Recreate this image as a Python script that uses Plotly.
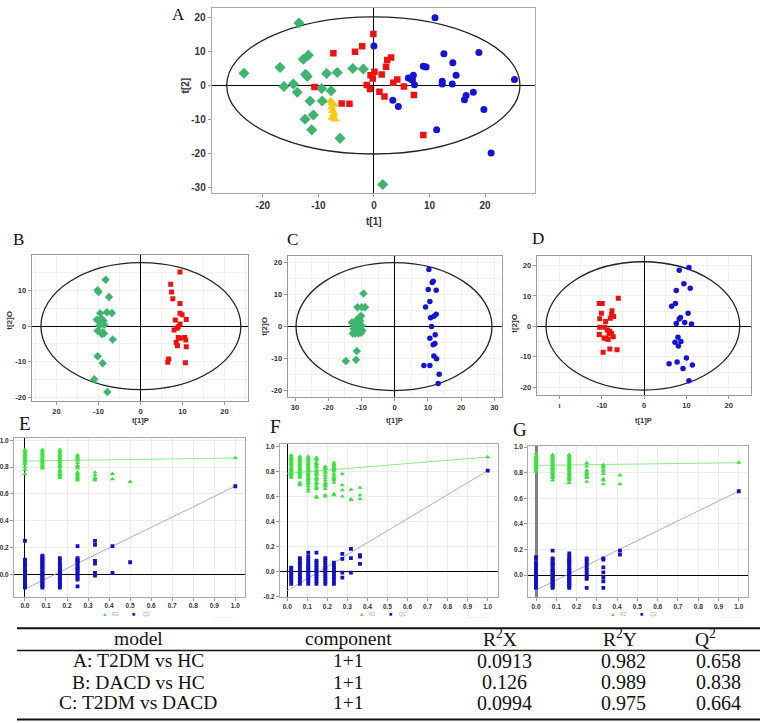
import plotly.graph_objects as go

W, H = 771, 723

# ---------------- DATA ----------------
# Panel A (PCA scores, t[1] vs t[2])
A_GREEN_X = [-13.5, -23.4, -16.9, -16.2, -14.5, -13.8, -12.7, -11.8, -12.3, -12.0, -11.5, -12.4, -10.9, -11.2, -9.4, -9.3, -8.5, -7.7, -6.6, -6.1, -3.8, -1.9, 1.6]
A_GREEN_Y = [18.4, 3.6, 5.3, -0.3, 0.4, -2.0, 7.7, 8.9, 3.3, 2.6, -4.6, -10.0, -8.7, -13.1, -0.9, -4.6, 3.5, -1.6, 3.8, -15.6, 5.0, 4.8, -29.2]
A_RED_X = [-0.1, -2.1, -3.4, -7.3, -10.7, -5.8, -4.4, -1.3, -0.7, -0.6, 0.1, -0.2, 1.4, 1.0, 1.9, 2.2, 2.4, 3.1, 3.5, 4.2, 5.4, 7.2, 7.0, 8.9]
A_RED_Y = [15.1, 11.5, 9.9, 9.5, -0.5, -5.3, -5.4, 0.1, -1.1, 3.0, 4.0, 2.0, 3.2, -1.9, -3.3, 5.5, 7.5, 8.2, 0.8, 1.7, -0.3, -2.8, 1.7, -14.6]
A_BLUE_X = [0.0, 11.0, 12.6, 14.2, 14.8, 18.9, 25.3, 8.9, 9.4, 6.2, 7.1, 7.3, 6.8, 3.4, 4.4, 12.3, 12.3, 14.1, 16.6, 16.3, 17.9, 19.8, 11.3, 21.1]
A_BLUE_Y = [11.6, 19.9, 9.3, 6.7, 3.0, 9.7, 1.7, 5.6, 5.4, 2.2, 3.0, 0.2, 1.7, -4.4, -6.2, 1.2, 0.4, 0.4, -3.0, -4.2, -2.0, -7.1, -13.1, -19.9]
A_YELLOW_X = [-7.8, -7.5, -7.2, -7.6, -7.4, -7.2, -7.5, -7.0]
A_YELLOW_Y = [-4.6, -5.2, -5.6, -6.5, -7.5, -8.5, -9.5, -10.0]

# Panel B (OPLS-DA, DACD vs HC)
B_GREEN_X = [-8.3, -10.2, -10.0, -7.5, -9.6, -8.0, -6.8, -10.4, -9.8, -9.2, -8.8, -9.8, -8.6, -10.2, -9.0, -8.7, -9.2, -6.6, -10.2, -9.0, -11.0, -7.9]
B_GREEN_Y = [13.1, 10.1, 9.6, 8.2, 3.6, 3.9, 3.7, 1.8, 1.5, 2.0, 1.5, 0.1, 0.4, -1.3, -1.7, -2.1, -2.2, -3.8, -8.5, -10.5, -15.0, -18.6]
B_RED_X = [9.4, 7.2, 7.4, 7.7, 9.4, 9.4, 9.9, 8.3, 10.9, 9.4, 9.0, 8.7, 8.0, 9.0, 9.4, 10.5, 10.8, 8.5, 8.8, 10.9, 6.7, 6.5, 10.7]
B_RED_Y = [15.3, 11.8, 9.6, 7.7, 6.4, 3.6, 3.2, 1.7, 1.9, 0.6, -0.2, -0.6, -1.1, -3.2, -3.4, -3.2, -3.9, -4.6, -5.5, -5.8, -9.3, -10.2, -10.3]

# Panel C (OPLS-DA, T2DM vs DACD)
C_GREEN_X = [-9.4, -11.2, -9.9, -8.9, -10.1, -10.7, -11.4, -11.9, -12.9, -10.4, -12.2, -10.9, -9.9, -12.4, -11.4, -10.7, -9.7, -12.6, -11.9, -10.9, -10.1, -11.4, -11.6, -14.7]
C_GREEN_Y = [10.4, 6.1, 6.1, 6.1, 3.4, 2.9, 2.2, 1.3, 1.3, 1.9, 0.3, 0.0, 0.3, -0.7, -1.0, -1.4, -1.2, -2.1, -2.1, -2.1, -1.9, -7.6, -10.3, -10.7]
C_BLUE_X = [10.3, 11.6, 11.3, 10.1, 12.5, 10.6, 9.3, 12.5, 11.8, 10.8, 11.1, 10.6, 12.2, 12.1, 11.6, 11.8, 12.6, 8.8, 10.6, 13.4, 13.1]
C_BLUE_Y = [17.9, 14.2, 13.8, 11.6, 11.4, 7.9, 6.2, 3.9, 3.3, 2.8, 0.1, -3.6, -2.5, -5.2, -5.6, -9.1, -10.0, -12.1, -12.1, -14.8, -17.7]

# Panel D (OPLS-DA, T2DM vs HC)
D_RED_X = [-6.1, -10.6, -9.9, -10.1, -7.6, -7.7, -8.0, -7.2, -10.5, -9.1, -10.5, -9.3, -8.7, -8.1, -8.3, -10.6, -7.7, -7.3, -9.1, -8.5, -9.5, -8.1, -6.4, -9.7]
D_RED_Y = [9.2, 7.5, 7.5, 4.3, 5.1, 3.8, 2.7, 3.2, 2.5, 1.6, -0.3, -0.3, -1.2, -1.6, -2.5, -2.7, -2.3, -3.4, -3.9, -4.3, -3.8, -7.4, -7.7, -8.5]
D_BLUE_X = [10.6, 8.3, 9.4, 10.9, 7.6, 7.4, 6.5, 10.4, 8.6, 8.3, 9.6, 7.6, 11.2, 8.0, 8.7, 7.3, 8.1, 10.0, 7.8, 5.9, 11.4, 9.2, 10.6]
D_BLUE_Y = [19.3, 18.4, 14.0, 12.5, 11.8, 7.5, 6.6, 4.3, 2.9, 2.4, 1.3, 0.9, 0.8, -3.6, -5.0, -5.2, -6.4, -10.4, -11.7, -12.3, -12.7, -13.8, -17.8]

# Hotelling T2 ellipses: [x_min, x_max, y_min, y_max]
ELLIPSE_A = [-26.5, 26.3, -20.2, 20.2]
ELLIPSE_B = [-23.7, 23.9, -17.9, 17.9]
ELLIPSE_C = [-29.7, 29.3, -19.9, 20.0]
ELLIPSE_D = [-23.2, 22.6, -20.9, 21.2]

# Permutation tests (E, F, G): correlation column positions, R2 and Q2 values per column
E_X = [0.0, 0.083, 0.166, 0.25, 0.333, 0.416, 0.5]
E_R2 = [
    [0.93, 0.92, 0.91, 0.90, 0.89, 0.88, 0.87, 0.86, 0.85, 0.84, 0.83, 0.82, 0.80, 0.78, 0.75],
    [0.93, 0.92, 0.91, 0.90, 0.89, 0.88, 0.87, 0.86, 0.85, 0.84, 0.83, 0.82, 0.81, 0.80, 0.79],
    [0.93, 0.92, 0.91, 0.90, 0.89, 0.88, 0.87, 0.86, 0.85, 0.84, 0.83, 0.82, 0.81, 0.80, 0.78, 0.77, 0.76, 0.75, 0.74, 0.73, 0.72],
    [0.89, 0.88, 0.87, 0.86, 0.85, 0.83, 0.81, 0.80, 0.79, 0.76, 0.75, 0.74, 0.73, 0.72, 0.71, 0.70],
    [0.76, 0.74, 0.72, 0.71, 0.70],
    [0.75, 0.71],
    [0.69],
]
E_Q2 = [
    [0.25, 0.11, 0.10, 0.08, 0.07, 0.05, 0.03, 0.02, 0.01, 0.0, -0.01, -0.02, -0.04, -0.05, -0.06, -0.07, -0.08, -0.09, -0.10],
    [0.14, 0.13, 0.12, 0.11, 0.10, 0.09, 0.08, 0.07, 0.06, 0.05, 0.04, 0.03, 0.02, 0.01, 0.0, -0.01, -0.02, -0.03, -0.04, -0.05, -0.06, -0.07, -0.08, -0.09, -0.10],
    [0.12, 0.10, 0.08, 0.07, 0.06, 0.05, 0.04, 0.03, 0.02, 0.01, 0.0, -0.01, -0.02, -0.03, -0.04, -0.05, -0.06, -0.07, -0.08, -0.09, -0.10],
    [0.21, 0.12, 0.11, 0.10, 0.09, 0.08, 0.06, 0.05, 0.04, 0.03, 0.01, 0.0, -0.01, -0.03, -0.04, -0.09],
    [0.25, 0.22, 0.10, 0.08, 0.01, -0.01],
    [0.21, 0.01],
    [0.09],
]
E_ORIG = [1.0, 0.868, 0.657]        # x, R2, Q2 of the real model
E_INTERCEPTS = [0.845, -0.11]       # R2 and Q2 regression intercepts

F_X = [0.02, 0.063, 0.105, 0.146, 0.19, 0.233, 0.275, 0.318, 0.363]
F_R2 = [
    [0.93, 0.92, 0.91, 0.90, 0.89, 0.88, 0.87, 0.86, 0.85, 0.84, 0.83, 0.82, 0.81, 0.80, 0.79, 0.78, 0.77, 0.76, 0.75],
    [0.92, 0.91, 0.90, 0.89, 0.88, 0.87, 0.86, 0.85, 0.84, 0.83, 0.82, 0.81, 0.80, 0.79, 0.78, 0.77, 0.76, 0.75, 0.71, 0.70, 0.69],
    [0.92, 0.91, 0.90, 0.89, 0.88, 0.87, 0.86, 0.85, 0.84, 0.83, 0.82, 0.81, 0.80, 0.79, 0.78, 0.77, 0.76, 0.75, 0.74, 0.73, 0.72, 0.71, 0.70, 0.68, 0.66, 0.64],
    [0.91, 0.90, 0.89, 0.87, 0.86, 0.85, 0.84, 0.83, 0.81, 0.80, 0.79, 0.78, 0.77, 0.75, 0.74, 0.73, 0.71, 0.70, 0.68, 0.67, 0.66, 0.60, 0.59],
    [0.84, 0.83, 0.82, 0.80, 0.79, 0.77, 0.75, 0.73, 0.71, 0.70, 0.69, 0.68, 0.66, 0.61, 0.60],
    [0.87, 0.86, 0.85, 0.84, 0.83, 0.82, 0.81, 0.80, 0.78, 0.76, 0.75, 0.74, 0.73, 0.71, 0.62, 0.61],
    [0.78, 0.69, 0.65, 0.60],
    [0.655, 0.58, 0.57],
    [0.67, 0.61, 0.58],
]
F_Q2 = [
    [0.03, 0.02, 0.0, -0.02, -0.03, -0.05, -0.06, -0.08, -0.10],
    [0.105, 0.09, 0.07, 0.06, 0.04, 0.02, 0.0, -0.01, -0.03, -0.05, -0.06, -0.08, -0.10],
    [0.15, 0.12, 0.10, 0.08, 0.06, 0.05, 0.03, 0.02, 0.0, -0.02, -0.03, -0.05, -0.06, -0.08, -0.10],
    [0.15, 0.085, 0.07, 0.05, 0.03, 0.01, 0.0, -0.02, -0.04, -0.06, -0.08, -0.10],
    [0.105, 0.09, 0.07, 0.05, 0.03, 0.02, 0.0, -0.02, -0.04, -0.06, -0.08, -0.10],
    [0.07, 0.05, 0.03, 0.02, 0.0, -0.02, -0.04, -0.06, -0.08, -0.10],
    [0.14, 0.10, -0.01, -0.05],
    [0.18, 0.105, -0.01],
    [0.13, 0.117, 0.06],
]
F_ORIG = [1.0, 0.915, 0.806]
F_INTERCEPTS = [0.785, -0.155]

G_X = [0.0, 0.082, 0.164, 0.25, 0.332, 0.414]
G_R2 = [
    [0.95, 0.93, 0.92, 0.91, 0.90, 0.89, 0.88, 0.87, 0.86, 0.85, 0.84, 0.83, 0.82, 0.81],
    [0.94, 0.93, 0.92, 0.91, 0.90, 0.89, 0.88, 0.87, 0.86, 0.85, 0.84, 0.83, 0.82, 0.81, 0.80, 0.79, 0.78, 0.77, 0.76, 0.74],
    [0.94, 0.93, 0.92, 0.91, 0.90, 0.89, 0.88, 0.87, 0.86, 0.85, 0.84, 0.83, 0.82, 0.81, 0.80, 0.79, 0.78, 0.77, 0.76, 0.75, 0.74, 0.72],
    [0.875, 0.85, 0.82, 0.81, 0.80, 0.79, 0.78, 0.77, 0.76, 0.73],
    [0.86, 0.85, 0.84, 0.82, 0.81, 0.79, 0.75, 0.74, 0.71],
    [0.78, 0.71],
]
G_Q2 = [
    [0.14, 0.13, 0.10, 0.08, 0.07, 0.05, 0.04, 0.03, 0.02, 0.01, 0.0, -0.01, -0.02, -0.03, -0.05, -0.06, -0.07, -0.08, -0.09, -0.10],
    [0.19, 0.13, 0.12, 0.10, 0.09, 0.08, 0.07, 0.05, 0.04, 0.03, 0.02, 0.01, 0.0, -0.01, -0.02, -0.03, -0.04, -0.05, -0.06, -0.07, -0.08, -0.09, -0.10],
    [0.17, 0.15, 0.13, 0.12, 0.11, 0.10, 0.09, 0.08, 0.06, 0.05, 0.04, 0.03, 0.02, 0.01, 0.0, -0.01, -0.02, -0.03, -0.04, -0.05, -0.06, -0.07, -0.08, -0.09, -0.10],
    [0.13, 0.12, 0.10, 0.08, 0.06, 0.04, 0.02, 0.0, -0.02, -0.03, -0.10],
    [0.13, 0.12, 0.06, 0.02, -0.02, -0.05, -0.10],
    [0.19, 0.16],
]
G_ORIG = [1.0, 0.878, 0.655]
G_INTERCEPTS = [0.857, -0.117]

# Summary table
TABLE_HEADER = ["model", "component", "R<sup>2</sup>X", "R<sup>2</sup>Y", "Q<sup>2</sup>"]
TABLE_MODEL = ["A: T2DM vs HC", "B: DACD vs HC", "C: T2DM vs DACD"]
TABLE_COMPONENT = ["1+1", "1+1", "1+1"]
TABLE_R2X = ["0.0913", "0.126", "0.0994"]
TABLE_R2Y = ["0.982", "0.989", "0.975"]
TABLE_Q2 = ["0.658", "0.838", "0.664"]

# ---------------- STYLE ----------------
GREEN = "#3db56e"
RED = "#ee1111"
BLUE = "#1414d8"
YELLOW = "#f5c816"
PGREEN = "#3fe03f"
PBLUE = "#1111c8"
PGREEN_LINE = "#8fe88f"
PBLUE_LINE = "#a8a8ee"
SANS = "Liberation Sans"
SERIF = "Liberation Serif"


def px_dom(a, b, total):
    return [a / total, b / total]


def ydom(top, bottom):
    return [1 - bottom / H, 1 - top / H]


fig = go.Figure()


def scat(x, y, ax, symbol, color, size):
    fig.add_trace(go.Scatter(
        x=x, y=y, mode="markers", xaxis="x" + ax, yaxis="y" + ax,
        marker=dict(symbol=symbol, color=color, size=size, line=dict(width=0)),
        showlegend=False, hoverinfo="skip"))


# Panel A
scat(A_GREEN_X, A_GREEN_Y, "", "diamond", GREEN, 8.5)
scat(A_RED_X, A_RED_Y, "", "square", RED, 6.5)
scat(A_BLUE_X, A_BLUE_Y, "", "circle", BLUE, 7)
scat(A_YELLOW_X, A_YELLOW_Y, "", "triangle-up", YELLOW, 8.5)
# Panel B
scat(B_GREEN_X, B_GREEN_Y, "2", "diamond", GREEN, 6.5)
scat(B_RED_X, B_RED_Y, "2", "square", RED, 5)
# Panel C
scat(C_GREEN_X, C_GREEN_Y, "3", "diamond", GREEN, 6.5)
scat(C_BLUE_X, C_BLUE_Y, "3", "circle", BLUE, 5.5)
# Panel D
scat(D_RED_X, D_RED_Y, "4", "square", RED, 5)
scat(D_BLUE_X, D_BLUE_Y, "4", "circle", BLUE, 5.5)


def perm(ax, xs, r2, q2, orig, inter):
    # regression lines
    fig.add_trace(go.Scatter(x=[0, orig[0]], y=[inter[0], orig[1]], mode="lines",
                             xaxis="x" + ax, yaxis="y" + ax, line=dict(color=PGREEN_LINE, width=1),
                             showlegend=False, hoverinfo="skip"))
    fig.add_trace(go.Scatter(x=[0, orig[0]], y=[inter[1], orig[2]], mode="lines",
                             xaxis="x" + ax, yaxis="y" + ax, line=dict(color=PBLUE_LINE, width=1),
                             showlegend=False, hoverinfo="skip"))
    gx, gy, bx, by = [], [], [], []
    for xv, col in zip(xs, r2):
        gx += [xv] * len(col)
        gy += col
    for xv, col in zip(xs, q2):
        bx += [xv] * len(col)
        by += col
    gx.append(orig[0]); gy.append(orig[1])
    bx.append(orig[0]); by.append(orig[2])
    scat(gx, gy, ax, "triangle-up", PGREEN, 4.5)
    scat(bx, by, ax, "square", PBLUE, 3.8)


perm("5", E_X, E_R2, E_Q2, E_ORIG, E_INTERCEPTS)
perm("6", F_X, F_R2, F_Q2, F_ORIG, F_INTERCEPTS)
perm("7", G_X, G_R2, G_Q2, G_ORIG, G_INTERCEPTS)


def axis(domain, rng, tickvals, ticktext, fsize, anchor, frame="#999", grid=None,
         zcolor="black", zwidth=1.4, minor=None):
    d = dict(domain=domain, range=rng, tickvals=tickvals, ticktext=ticktext,
             tickfont=dict(family=SANS, size=fsize, color="#333", weight="bold"),
             anchor=anchor, showline=True, mirror=True, linecolor=frame, linewidth=1,
             ticks="outside", ticklen=3, tickcolor="#999", tickwidth=1,
             zeroline=True, zerolinecolor=zcolor, zerolinewidth=zwidth,
             showgrid=grid is not None, gridcolor=grid or "#fff", gridwidth=1,
             fixedrange=True)
    if minor:
        d["minor"] = dict(dtick=minor, showgrid=True, gridcolor=grid or "#eee", ticks="")
    return d


def fmt(v):
    return f"{v:.1f}"


layout = dict(width=W, height=H, margin=dict(l=0, r=0, t=0, b=0),
              paper_bgcolor="white", plot_bgcolor="white", showlegend=False)

# A
layout["xaxis"] = axis(px_dom(211.7, 535, W), [-29.2, 29.0], [-20, -10, 0, 10, 20],
                       ["-20", "-10", "0", "10", "20"], 10, "y", frame="#aaa")
layout["yaxis"] = axis(ydom(5, 191), [-31.6, 22.8], [20, 10, 0, -10, -20, -30],
                       ["20", "10", "0", "-10", "-20", "-30"], 10, "x", frame="#aaa")
# B
layout["xaxis2"] = axis(px_dom(31.7, 248, W), [-25.9, 25.6], [-20, -10, 0, 10, 20],
                        ["20", "-10", "0", "10", "20"], 7.5, "y2", grid="#f0f0f0", minor=5)
layout["yaxis2"] = axis(ydom(254, 400.7), [-21.1, 20.0], [10, 0, -10, -20],
                        ["10", "0", "-10", "-20"], 7.5, "x2", grid="#f0f0f0", minor=5)
# C
layout["xaxis3"] = axis(px_dom(287.7, 502.3, W), [-32.2, 32.4], [-30, -20, -10, 0, 10, 20, 30],
                        ["30", "-20", "-10", "0", "10", "20", "30"], 7.5, "y3", grid="#f0f0f0", minor=5)
layout["yaxis3"] = axis(ydom(255, 396.7), [-21.9, 22.0], [20, 10, 0, -10, -20],
                        ["20", "10", "0", "-10", "-20"], 7.5, "x3", grid="#f0f0f0", minor=5)
# D
layout["xaxis4"] = axis(px_dom(536.7, 750.7, W), [-25.4, 25.2], [-20, -10, 0, 10, 20],
                        ["ı", "-10", "0", "10", "20"], 7.5, "y4", grid="#f0f0f0", minor=5)
layout["yaxis4"] = axis(ydom(255, 395), [-22.6, 23.0], [20, 10, 0, -10, -20],
                        ["20", "10", "0", "-10", "-20"], 7.5, "x4", grid="#f0f0f0", minor=5)

PX_TICKS = [0.0, 0.1, 0.2, 0.3, 0.4, 0.5, 0.6, 0.7, 0.8, 0.9, 1.0]
PY_TICKS = [0.0, 0.2, 0.4, 0.6, 0.8, 1.0]
PY_TICKS_F = [-0.2, 0.0, 0.2, 0.4, 0.6, 0.8, 1.0]
# E
layout["xaxis5"] = axis(px_dom(14, 245, W), [-0.052, 1.046], PX_TICKS, [fmt(v) for v in PX_TICKS],
                        6.5, "y5", frame="#aaa", grid="#ececec")
layout["yaxis5"] = axis(ydom(438.3, 597.7), [-0.166, 1.015], PY_TICKS, [fmt(v) for v in PY_TICKS],
                        6.5, "x5", frame="#aaa", grid="#ececec")
# F
layout["xaxis6"] = axis(px_dom(280, 498.3, W), [-0.036, 1.053], PX_TICKS, [fmt(v) for v in PX_TICKS],
                        6.5, "y6", frame="#aaa", grid="#ececec")
layout["yaxis6"] = axis(ydom(444.3, 598.3), [-0.207, 1.018], PY_TICKS_F, [fmt(v) for v in PY_TICKS_F],
                        6.5, "x6", frame="#aaa", grid="#ececec")
# G
layout["xaxis7"] = axis(px_dom(528.3, 747.7, W), [-0.038, 1.044], PX_TICKS, [fmt(v) for v in PX_TICKS],
                        6.5, "y7", frame="#aaa", grid="#ececec", zcolor="#808080", zwidth=2.5)
layout["yaxis7"] = axis(ydom(446.3, 598.3), [-0.173, 1.007], PY_TICKS, [fmt(v) for v in PY_TICKS],
                        6.5, "x7", frame="#aaa", grid="#ececec")

shapes = []
for ax, e in [("", ELLIPSE_A), ("2", ELLIPSE_B), ("3", ELLIPSE_C), ("4", ELLIPSE_D)]:
    shapes.append(dict(type="circle", xref="x" + ax, yref="y" + ax,
                       x0=e[0], x1=e[1], y0=e[2], y1=e[3],
                       line=dict(color="#222", width=1.3), layer="between"))

# table rules
for yy, wd in [(629.7, 2), (652, 1.3), (721.5, 2)]:
    shapes.append(dict(type="line", xref="paper", yref="paper",
                       x0=17 / W, x1=760 / W, y0=1 - yy / H, y1=1 - yy / H,
                       line=dict(color="#111", width=wd)))
layout["shapes"] = shapes

ann = []


def text(x, y, s, size, family=SANS, color="#222", bold=False, angle=0):
    ann.append(dict(x=x / W, y=1 - y / H, xref="paper", yref="paper", text=s,
                    showarrow=False, xanchor="center", yanchor="middle", textangle=angle,
                    borderpad=0,
                    font=dict(family=family, size=size, color=color, weight="bold" if bold else "normal")))


# panel letters
text(178, 12, "A", 17, SERIF, "#111")
text(18, 238, "B", 17, SERIF, "#111")
text(292, 238, "C", 17, SERIF, "#111")
text(538, 237, "D", 17, SERIF, "#111")
text(25, 423, "E", 19, SERIF, "#111")
text(275, 426, "F", 19, SERIF, "#111")
text(520, 429, "G", 19, SERIF, "#111")

# axis titles
text(374, 220, "t[1]", 10, bold=True, color="#333")
text(185, 83, "t[2]", 10, bold=True, color="#333", angle=-90)
for xc in [140, 395, 643]:
    text(xc, 420, "t[1]P", 7.5, bold=True, color="#333")
for xc, yc in [(10, 320), (265, 326), (515, 323)]:
    text(xc, yc, "t[2]O", 8, bold=True, color="#333", angle=-90)

# permutation legends
for tri, r2x, sq, q2x, dots in [(104, 115, 133, 146, 225), (361, 372, 390, 402, 479), (612, 623, 641, 653, 731)]:
    text(tri, 615.5, "▲", 5.5, color=PGREEN)
    text(r2x, 615.5, "R2", 5, color="#aaa")
    text(sq, 615.5, "■", 5.5, color=PBLUE)
    text(q2x, 615.5, "Q2", 5, color="#aaa")
    text(dots, 618, "··············", 5, color="#bbb")

# table text
hdr_x = [138, 348, 500, 620, 705]
for xc, s in zip(hdr_x, TABLE_HEADER):
    text(xc, 639.5, s, 19.5, SERIF, "#111")
row_y = [662.5, 684, 704.5]
for i, yc in enumerate(row_y):
    text(138, yc, TABLE_MODEL[i], 19.5, SERIF, "#111")
    text(348, yc, TABLE_COMPONENT[i], 19.5, SERIF, "#111")
    text(504, yc, TABLE_R2X[i], 20, SERIF, "#111")
    text(623, yc, TABLE_R2Y[i], 20, SERIF, "#111")
    text(718, yc, TABLE_Q2[i], 20, SERIF, "#111")

layout["annotations"] = ann
fig.update_layout(**layout)
fig.write_html("out.html", config={"displayModeBar": False},
               post_script="document.body.style.margin='0';document.body.style.overflow='hidden';")
